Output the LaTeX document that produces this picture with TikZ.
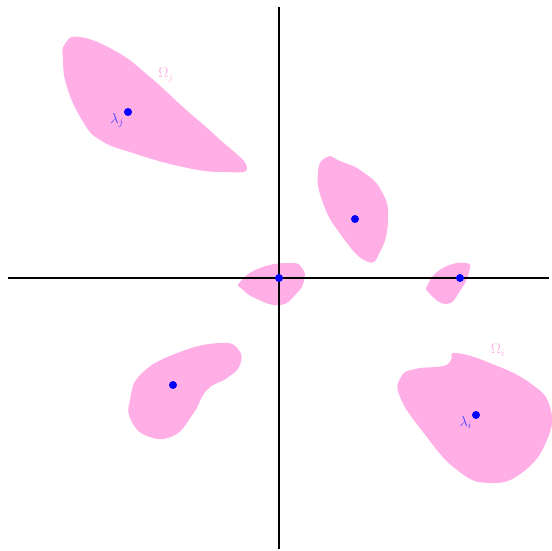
\documentclass[tikz,border=0pt]{standalone}
\usepackage{amsmath,amssymb}
\usepackage{xcolor}
\usepackage{tikz}
\usetikzlibrary{positioning}
\definecolor{pinkblob}{RGB}{255,174,230}
\definecolor{eigblue}{RGB}{0,0,255}

\begin{document}
\begin{tikzpicture}[
  x=1pt, y=-1pt,
  blob/.style={fill=pinkblob, draw=none},
  axisline/.style={draw=black, line width=1.2pt},
  eig/.style={circle, fill=eigblue, inner sep=0pt, minimum size=8pt},
  eiglab/.style={text=eigblue!75, font=\Large, inner sep=1pt},
  domlab/.style={text=pinkblob, font=\Large, inner sep=1pt}
]
  \useasboundingbox (0,0) rectangle (552,551);

  % regions
  \fill[blob] plot[smooth cycle, tension=0.8] coordinates {
    (65,44) (80,37) (117,52) (150,77) (183,107) (217,137) (247,167)
    (223,172) (183,167) (133,153) (100,140) (82,120) (67,87) (63,60)};
  \fill[blob] plot[smooth cycle, tension=0.85] coordinates {
    (327,157) (340,161) (363,172) (382,192) (388,220) (380,252)
    (366,261) (341,235) (323,203) (318,172)};
  \fill[blob] plot[smooth cycle, tension=0.85] coordinates {
    (240,282) (260,268) (290,263) (302,268) (304,281) (296,294)
    (280,305) (257,299) (242,289)};
  \fill[blob] plot[smooth cycle, tension=0.85] coordinates {
    (428,284) (443,268) (466,263) (469,272) (460,291) (447,304) (430,294)};
  \fill[blob] plot[smooth cycle, tension=0.8] coordinates {
    (130,400) (142,373) (180,352) (220,343) (238,349) (240,365)
    (227,378) (207,390) (193,414) (173,436) (147,436) (131,420)};
  \fill[blob] plot[smooth cycle, tension=0.8] coordinates {
    (451,360) (456,353) (490,363) (530,383) (550,407) (547,440)
    (523,472) (490,483) (457,470) (423,432) (400,397) (401,377)
    (415,369) (443,366)};

  % axes
  \coordinate (xl) at (8,278);
  \coordinate (xr) at (549,278);
  \coordinate (yt) at (279,7);
  \coordinate (yb) at (279,549);
  \draw[axisline] (xl) -- (xr);
  \draw[axisline] (yt) -- (yb);

  % eigenvalues
  \node[eig] (lamj) at (128,112) {};
  \node[eig] (lamq) at (355,219) {};
  \node[eig] (lamo) at (279,278) {};
  \node[eig] (lamr) at (460,278) {};
  \node[eig] (laml) at (173,385) {};
  \node[eig] (lami) at (476,415) {};

  \node[eiglab, below left=-3pt and 0pt of lamj] {$\lambda_j$};
  \node[eiglab, below left=-3pt and 0pt of lami] {$\lambda_i$};
  \node[domlab] (omj) at (166,75) {$\Omega_j$};
  \node[domlab] (omi) at (498,350) {$\Omega_i$};
\end{tikzpicture}
\end{document}
